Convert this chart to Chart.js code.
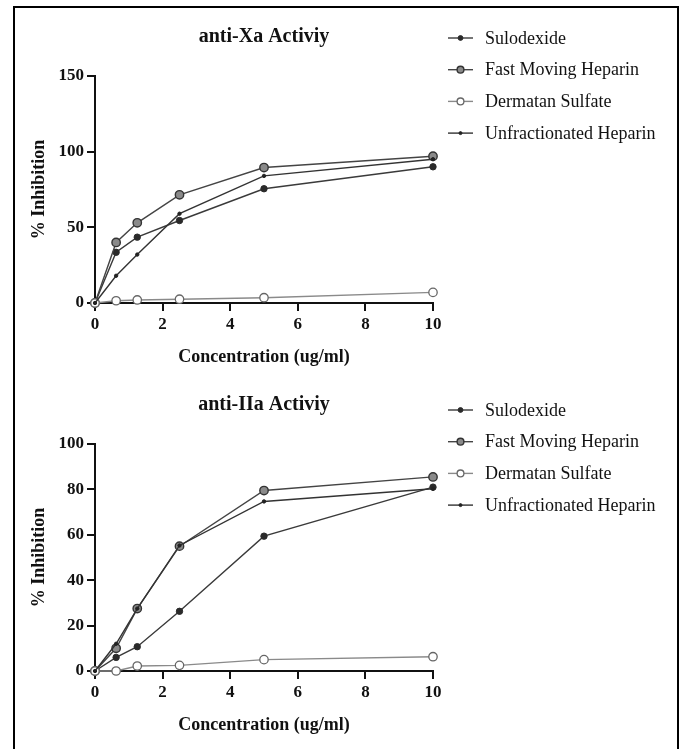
<!DOCTYPE html>
<html>
<head>
<meta charset="utf-8">
<script src="https://cdn.jsdelivr.net/npm/chart.js@4/dist/chart.umd.min.js"></script>
<style>
  html, body { margin: 0; padding: 0; background: #fff; }
  body { width: 685px; height: 749px; position: relative; overflow: hidden; }
  #frame { position: absolute; left: 13px; top: 6px; width: 666px; height: 780px; border: 2.5px solid #000; box-sizing: border-box; }
  .wrap { position: absolute; left: 0; width: 685px; height: 368px; }
  #w1 { top: 0; }
  #w2 { top: 368px; }
</style>
</head>
<body>
<div id="frame"></div>
<div class="wrap" id="w1"><canvas id="c1" width="685" height="368"></canvas></div>
<div class="wrap" id="w2"><canvas id="c2" width="685" height="368"></canvas></div>
<script>
// ---- data ----
const concentrations = [0, 0.625, 1.25, 2.5, 5, 10];
const seriesNames = ["Sulodexide", "Fast Moving Heparin", "Dermatan Sulfate", "Unfractionated Heparin"];

const xaSulodexide = [0, 33.5, 43.5, 54.5, 75.5, 90];
const xaFastMoving = [0, 40, 53, 71.5, 89.5, 97];
const xaDermatan   = [0, 1.5, 2, 2.5, 3.5, 7];
const xaUnfract    = [0, 18, 32, 59, 84, 95];

const iiaSulodexide = [0, 6, 10.7, 26.3, 59.4, 81];
const iiaFastMoving = [0, 10, 27.5, 55, 79.5, 85.5];
const iiaDermatan   = [0, 0, 2.2, 2.5, 5, 6.3];
const iiaUnfract    = [0, 12, 27.5, 55.3, 74.7, 80.3];

const xTicks = [0, 2, 4, 6, 8, 10];

// ---- styles ----
const SERIF = '"Liberation Serif", "Times New Roman", serif';
const styles = [
  { line: '#3a3a3a', fill: '#2a2a2a', stroke: '#2a2a2a', r: 3.2, bw: 1 },
  { line: '#444444', fill: '#8a8a8a', stroke: '#333333', r: 4.2, bw: 1.4 },
  { line: '#8a8a8a', fill: '#ffffff', stroke: '#666666', r: 4.2, bw: 1.3 },
  { line: '#333333', fill: '#222222', stroke: '#222222', r: 1.7, bw: 1 }
];

function mkData(vals) { return concentrations.map((x, i) => ({ x: x, y: vals[i] })); }

function mkDatasets(arrs) {
  return arrs.map((vals, i) => ({
    label: seriesNames[i],
    data: mkData(vals),
    borderColor: styles[i].line,
    borderWidth: 1.4,
    pointRadius: styles[i].r,
    pointBackgroundColor: styles[i].fill,
    pointBorderColor: styles[i].stroke,
    pointBorderWidth: styles[i].bw,
    tension: 0,
    clip: false,
    order: 4 - i
  }));
}

const legendPlugin = {
  id: 'sideLegend',
  afterDraw(chart, args, opts) {
    const ctx = chart.ctx;
    ctx.save();
    chart.data.datasets.forEach((ds, i) => {
      const y = opts.top + i * opts.step;
      const s = styles[i];
      ctx.strokeStyle = s.line;
      ctx.lineWidth = 1.4;
      ctx.beginPath();
      ctx.moveTo(448, y);
      ctx.lineTo(473, y);
      ctx.stroke();
      ctx.beginPath();
      ctx.arc(460.5, y, Math.max(s.r - 0.8, 1.5), 0, Math.PI * 2);
      ctx.fillStyle = s.fill;
      ctx.fill();
      ctx.lineWidth = s.bw;
      ctx.strokeStyle = s.stroke;
      ctx.stroke();
      ctx.fillStyle = '#111';
      ctx.font = '18px ' + SERIF;
      ctx.textBaseline = 'middle';
      ctx.textAlign = 'left';
      ctx.fillText(ds.label, 485, y + 1);
    });
    ctx.restore();
  }
};

function mkChart(id, title, arrs, yMax, yStep, legendTop) {
  return new Chart(document.getElementById(id), {
    type: 'line',
    data: { datasets: mkDatasets(arrs) },
    plugins: [legendPlugin],
    options: {
      responsive: false,
      animation: false,
      layout: { padding: { left: 0, right: 252, top: 0, bottom: 0 } },
      plugins: {
        legend: { display: false },
        tooltip: { enabled: false },
        title: {
          display: true,
          text: title,
          fullSize: false,
          color: '#111',
          font: { family: SERIF, size: 20, weight: 'bold' },
          padding: { top: 25, bottom: 27 }
        },
        sideLegend: { top: legendTop, step: 31.7 }
      },
      scales: {
        x: {
          type: 'linear',
          min: 0, max: 10,
          afterBuildTicks(scale) { scale.ticks = xTicks.map(v => ({ value: v })); },
          afterFit(scale) { scale.height = 65; },
          ticks: { color: '#111', font: { family: SERIF, size: 17, weight: 'bold' }, padding: 3, maxRotation: 0 },
          grid: { drawOnChartArea: false, drawTicks: true, tickLength: 8, lineWidth: 2, color: '#111' },
          border: { display: true, color: '#111', width: 2 },
          title: { display: true, text: 'Concentration (ug/ml)', color: '#111',
                   font: { family: SERIF, size: 18, weight: 'bold' }, padding: { top: 0, bottom: 0 } }
        },
        y: {
          min: 0, max: yMax,
          afterFit(scale) { scale.width = 95; },
          ticks: { stepSize: yStep, color: '#111', font: { family: SERIF, size: 17, weight: 'bold' }, padding: 3 },
          grid: { drawOnChartArea: false, drawTicks: true, tickLength: 8, lineWidth: 2, color: '#111' },
          border: { display: true, color: '#111', width: 2 },
          title: { display: true, text: '% Inhibition', color: '#111',
                   font: { family: SERIF, size: 18, weight: 'bold' }, padding: { top: 29, bottom: 0 } }
        }
      }
    }
  });
}

mkChart('c1', 'anti-Xa Activiy', [xaSulodexide, xaFastMoving, xaDermatan, xaUnfract], 150, 50, 38);
mkChart('c2', 'anti-IIa Activiy', [iiaSulodexide, iiaFastMoving, iiaDermatan, iiaUnfract], 100, 20, 42);
</script>
</body>
</html>
